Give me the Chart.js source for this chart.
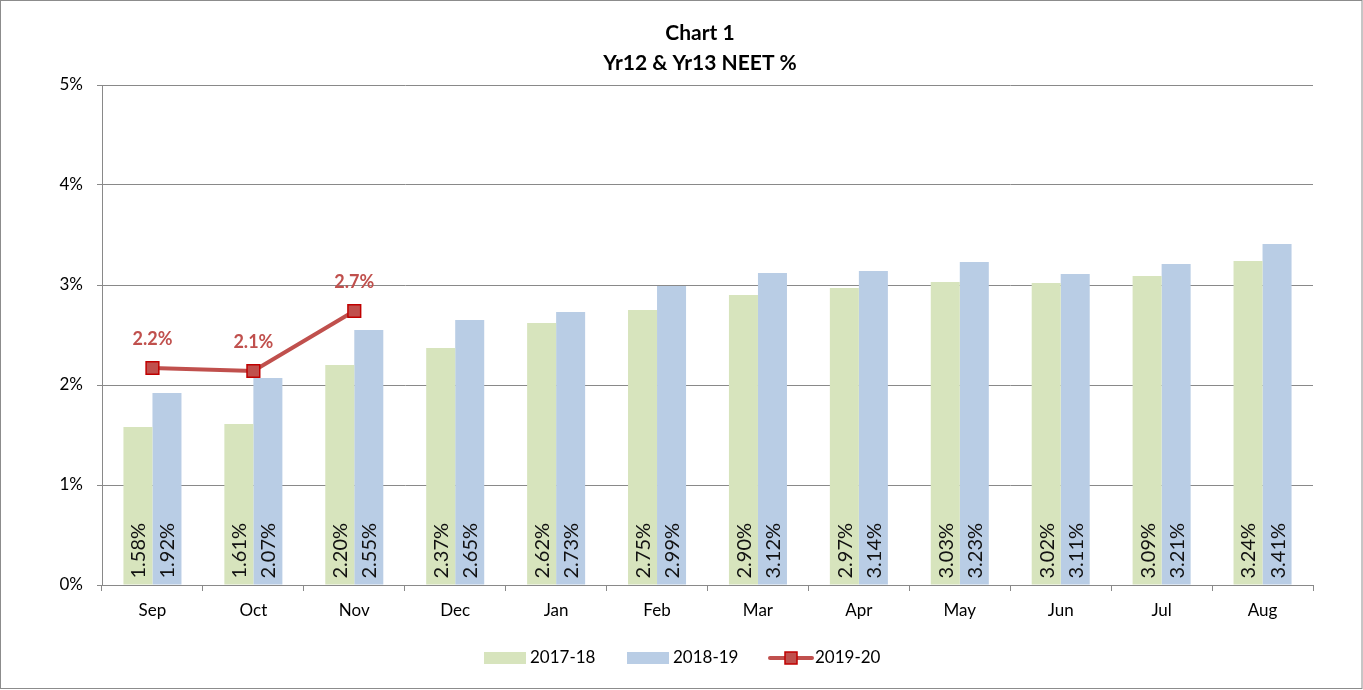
<!DOCTYPE html>
<html>
<head>
<meta charset="utf-8">
<script src="https://cdn.jsdelivr.net/npm/chart.js@4/dist/chart.umd.min.js"></script>
<style>
html,body{margin:0;padding:0;background:#fff;}
#wrap{width:1363px;height:690px;position:relative;}
</style>
</head>
<body>
<div id="wrap"><canvas id="c" width="1363" height="690"></canvas></div>
<script>
const categories = ['Sep','Oct','Nov','Dec','Jan','Feb','Mar','Apr','May','Jun','Jul','Aug'];
const series2017 = [1.58,1.61,2.20,2.37,2.62,2.75,2.90,2.97,3.03,3.02,3.09,3.24];
const series2018 = [1.92,2.07,2.55,2.65,2.73,2.99,3.12,3.14,3.23,3.11,3.21,3.41];
const series2019 = [2.17,2.14,2.74,null,null,null,null,null,null,null,null,null];
const seriesLabels = ['2017-18','2018-19','2019-20'];
const yTicks = [0,1,2,3,4,5];
const titleLines = ['Chart 1','Yr12 & Yr13 NEET %'];

const FONT = 'Lato, "Open Sans", sans-serif';
const GREEN = '#D7E4BD', BLUE = '#B9CDE5', RED = '#C0504D', RED_DARK = '#C00000', GRID = '#898989';

const customPlugin = {
  id: 'custom',
  beforeDraw(chart) {
    const ctx = chart.ctx;
    ctx.save();
    ctx.fillStyle = '#fff';
    ctx.fillRect(0,0,chart.width,chart.height);
    ctx.strokeStyle = '#8c8c8c';
    ctx.lineWidth = 1;
    ctx.strokeRect(0.5,0.5,chart.width-1.5,chart.height-2);
    ctx.restore();
  },
  afterDatasetsDraw(chart) {
    const ctx = chart.ctx;
    ctx.save();
    chart.data.datasets.forEach((ds, di) => {
      const meta = chart.getDatasetMeta(di);
      meta.data.forEach((el, i) => {
        const v = ds.data[i];
        if (v == null) return;
        if (ds.type === 'bar') {
          ctx.save();
          ctx.translate(el.x, el.base - 6);
          ctx.rotate(-Math.PI/2);
          ctx.font = '20px ' + FONT;
          ctx.fillStyle = '#111';
          ctx.textAlign = 'left';
          ctx.textBaseline = 'middle';
          ctx.fillText(v.toFixed(2) + '%', 0, 1);
          ctx.restore();
        } else {
          ctx.font = 'bold 18px ' + FONT;
          ctx.fillStyle = RED;
          ctx.textAlign = 'center';
          ctx.textBaseline = 'middle';
          ctx.fillText(v.toFixed(1) + '%', el.x, el.y - 29);
        }
      });
    });
    ctx.restore();
  },
  afterDraw(chart) {
    const ctx = chart.ctx;
    ctx.save();
    ctx.font = 'bold 21px ' + FONT;
    ctx.fillStyle = '#000';
    ctx.textAlign = 'center';
    ctx.textBaseline = 'middle';
    ctx.fillText(titleLines[0], 700, 33);
    ctx.fillText(titleLines[1], 700, 63);
    const ly = 658;
    ctx.font = '17px ' + FONT;
    ctx.textBaseline = 'middle';
    ctx.textAlign = 'left';
    ctx.fillStyle = GREEN;
    ctx.fillRect(484, ly-6, 42, 12);
    ctx.fillStyle = '#000';
    ctx.fillText(seriesLabels[0], 530, ly);
    ctx.fillStyle = BLUE;
    ctx.fillRect(627, ly-6, 42, 12);
    ctx.fillStyle = '#000';
    ctx.fillText(seriesLabels[1], 673, ly);
    ctx.strokeStyle = RED;
    ctx.lineWidth = 4;
    ctx.lineCap = 'round';
    ctx.beginPath(); ctx.moveTo(770, ly); ctx.lineTo(812, ly); ctx.stroke();
    ctx.fillStyle = RED;
    ctx.fillRect(785, ly-6, 12, 12);
    ctx.strokeStyle = RED_DARK;
    ctx.lineWidth = 1.5;
    ctx.strokeRect(785, ly-6, 12, 12);
    ctx.fillStyle = '#000';
    ctx.fillText(seriesLabels[2], 815, ly);
    ctx.restore();
  }
};

new Chart(document.getElementById('c'), {
  data: {
    labels: categories,
    datasets: [
      { type: 'bar', label: seriesLabels[0], data: series2017, backgroundColor: GREEN,
        barPercentage: 1.0, categoryPercentage: 0.575, order: 1 },
      { type: 'bar', label: seriesLabels[1], data: series2018, backgroundColor: BLUE,
        barPercentage: 1.0, categoryPercentage: 0.575, order: 1 },
      { type: 'line', label: seriesLabels[2], data: series2019, borderColor: RED, backgroundColor: RED,
        borderWidth: 4, pointStyle: 'rect', pointRadius: 9, pointBackgroundColor: RED,
        pointBorderColor: RED_DARK, pointBorderWidth: 1.5, spanGaps: false, order: 0 }
    ]
  },
  options: {
    responsive: false,
    animation: false,
    devicePixelRatio: 1,
    layout: { padding: { left: 30, right: 50, top: 85, bottom: 0 } },
    plugins: { legend: { display: false }, title: { display: false }, tooltip: { enabled: false } },
    scales: {
      x: {
        grid: { offset: true, drawOnChartArea: false, color: GRID, tickLength: 6 },
        border: { color: GRID, width: 1 },
        ticks: { font: { family: FONT, size: 17 }, color: '#000', padding: 9 },
        afterFit(s) { s.height = 105; }
      },
      y: {
        min: 0, max: 5,
        afterBuildTicks(s) { s.ticks = yTicks.map(v => ({ value: v })); },
        grid: { color: GRID, tickLength: 5 },
        border: { color: GRID, width: 1 },
        ticks: { font: { family: FONT, size: 17 }, color: '#000', padding: 14, callback: v => v + '%' },
        afterFit(s) { s.width = 72; }
      }
    }
  },
  plugins: [customPlugin]
});
</script>
</body>
</html>
